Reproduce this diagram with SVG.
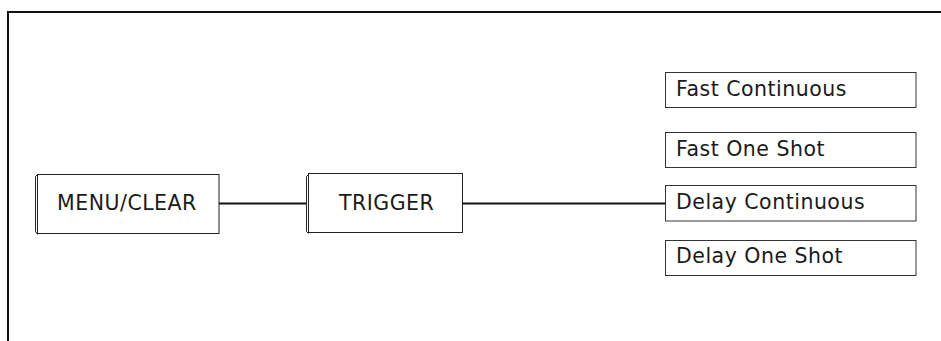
<svg xmlns="http://www.w3.org/2000/svg" width="941" height="341" viewBox="0 0 941 341">
<style>
.box{fill:#fff;stroke:#222;stroke-width:1}
.edge{fill:none;stroke:#222;stroke-width:1}
.opt{fill:#fff;stroke:#333;stroke-width:1}
.lbl{font-family:"DejaVu Sans",Verdana,sans-serif;font-size:20.5px;letter-spacing:0.5px;fill:#1a1a1a}
.conn{stroke:#111;stroke-width:2;fill:none}
</style>
<rect x="0" y="0" width="941" height="341" fill="#fff"/>
<path d="M8,345 V12 H945" fill="none" stroke="#111" stroke-width="2"/>
<g id="connectors">
<line class="conn" x1="219" y1="203.5" x2="307" y2="203.5"/>
<line class="conn" x1="462" y1="203.5" x2="665" y2="203.5"/>
</g>
<g id="menu-clear">
<polyline class="edge" points="37.5,174.5 35.5,176.5 35.5,231.5 37.5,234.5"/>
<rect class="box" x="37.5" y="174.5" width="181.5" height="59"/>
<text class="lbl" x="57" y="210">MENU/CLEAR</text>
</g>
<g id="trigger">
<polyline class="edge" points="308.5,174.5 306.5,176.5 306.5,231.5 308.5,233.5"/>
<rect class="box" x="308.5" y="173.5" width="154" height="59"/>
<text class="lbl" x="339" y="210">TRIGGER</text>
</g>
<g id="fast-continuous">
<rect class="opt" x="665.5" y="72.5" width="250.5" height="35"/>
<text class="lbl" x="676" y="96">Fast Continuous</text>
</g>
<g id="fast-one-shot">
<rect class="opt" x="665.5" y="132.5" width="250.5" height="35"/>
<text class="lbl" x="676" y="156">Fast One Shot</text>
</g>
<g id="delay-continuous">
<rect class="opt" x="665.5" y="185.5" width="250.5" height="35.5"/>
<text class="lbl" x="676" y="209">Delay Continuous</text>
</g>
<g id="delay-one-shot">
<rect class="opt" x="665.5" y="240.5" width="250.5" height="35"/>
<text class="lbl" x="676" y="263">Delay One Shot</text>
</g>
</svg>
